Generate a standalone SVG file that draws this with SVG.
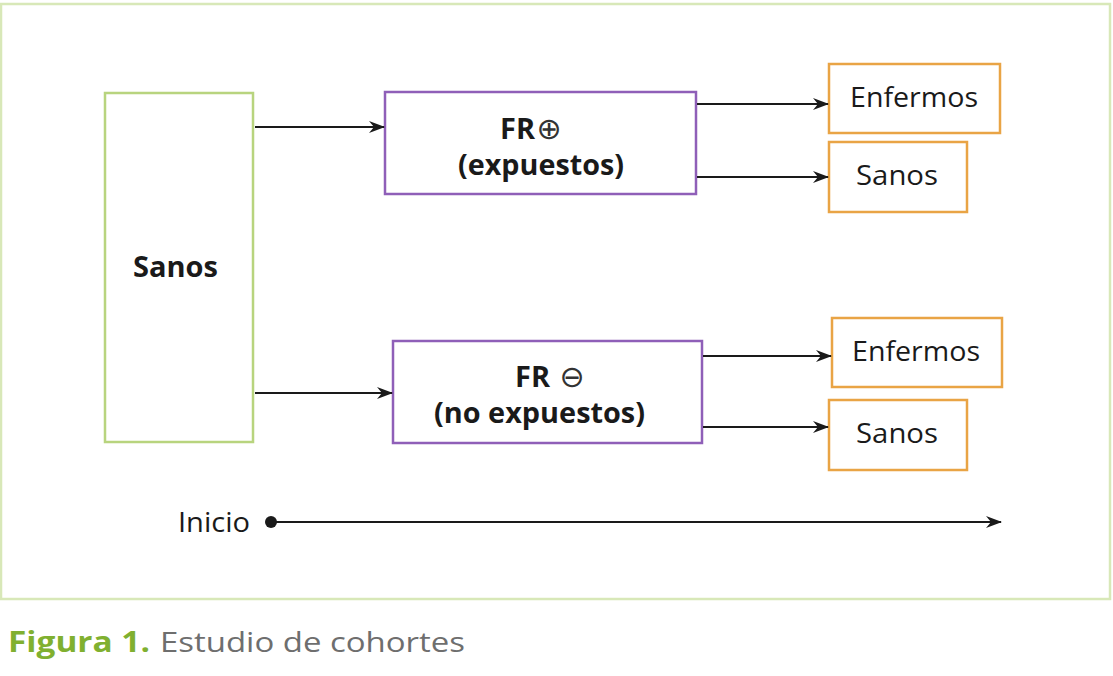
<svg xmlns="http://www.w3.org/2000/svg" width="1113" height="676" viewBox="0 0 1113 676">
<style>
.t{font-family:"Open Sans","Liberation Sans",sans-serif;fill:#1a1a1a;font-size:27px}
.b{font-weight:bold;font-size:28px}
.y{font-family:"DejaVu Sans",sans-serif;font-size:30px;fill:#333}
.g{fill:#fff;stroke:#b8d47e;stroke-width:2.5}
.p{fill:#fff;stroke:#8f5fb8;stroke-width:2.5}
.o{fill:#fff;stroke:#e9a445;stroke-width:2.5}
.c{stroke:#1a1a1a;stroke-width:2;fill:none;marker-end:url(#ah)}
</style>
<defs>
<marker id="ah" viewBox="0 0 16 12" refX="15" refY="6" markerWidth="16" markerHeight="12" markerUnits="userSpaceOnUse" orient="auto">
<path d="M0,0 L16,6 L0,12 L5,6 Z" fill="#1a1a1a"/>
</marker>
</defs>
<rect x="0" y="0" width="1113" height="676" fill="#fff"/>
<rect x="1" y="4" width="1109" height="595" fill="#fff" stroke="#d8e8b8" stroke-width="2.5"/>
<g id="sanos"><rect class="g" x="105" y="93" width="148" height="349"/><text class="t b" x="133" y="277" textLength="85" lengthAdjust="spacingAndGlyphs">Sanos</text></g>
<g id="frpos"><rect class="p" x="385" y="92" width="311" height="102"/><text class="t b" x="500" y="139" textLength="35" lengthAdjust="spacingAndGlyphs">FR</text><text class="y" x="549" y="139" text-anchor="middle">⊕</text><text class="t b" x="458" y="175" textLength="166" lengthAdjust="spacingAndGlyphs">(expuestos)</text></g>
<g id="frneg"><rect class="p" x="393" y="341" width="309" height="102"/><text class="t b" x="515" y="387" textLength="35" lengthAdjust="spacingAndGlyphs">FR</text><text class="y" x="572" y="387" text-anchor="middle">⊖</text><text class="t b" x="434" y="423" textLength="211" lengthAdjust="spacingAndGlyphs">(no expuestos)</text></g>
<g id="enf1"><rect class="o" x="829" y="64" width="171" height="69"/><text class="t" x="850" y="107" textLength="128" lengthAdjust="spacingAndGlyphs">Enfermos</text></g>
<g id="san1"><rect class="o" x="829" y="142" width="138" height="70"/><text class="t" x="856" y="185" textLength="82" lengthAdjust="spacingAndGlyphs">Sanos</text></g>
<g id="enf2"><rect class="o" x="832" y="318" width="170" height="69"/><text class="t" x="852" y="361" textLength="128" lengthAdjust="spacingAndGlyphs">Enfermos</text></g>
<g id="san2"><rect class="o" x="829" y="400" width="138" height="70"/><text class="t" x="856" y="443" textLength="82" lengthAdjust="spacingAndGlyphs">Sanos</text></g>
<g id="connectors">
<path class="c" d="M255,127 H384"/>
<path class="c" d="M255,393 H392"/>
<path class="c" d="M697,104 H828"/>
<path class="c" d="M697,177 H828"/>
<path class="c" d="M703,356 H831"/>
<path class="c" d="M703,427 H828"/>
<path class="c" d="M271,522 H1001"/>
</g>
<g id="inicio"><text class="t" x="178" y="532" textLength="72" lengthAdjust="spacingAndGlyphs">Inicio</text><circle cx="271" cy="522" r="6" fill="#1a1a1a"/></g>
<g id="caption"><text x="8" y="652" font-family="Open Sans,Liberation Sans,sans-serif" font-size="28" fill="#80b030" font-weight="bold" textLength="142" lengthAdjust="spacingAndGlyphs">Figura 1.</text><text x="160" y="652" font-family="Open Sans,Liberation Sans,sans-serif" font-size="28" fill="#6e6e6e" textLength="305" lengthAdjust="spacingAndGlyphs">Estudio de cohortes</text></g>
</svg>
